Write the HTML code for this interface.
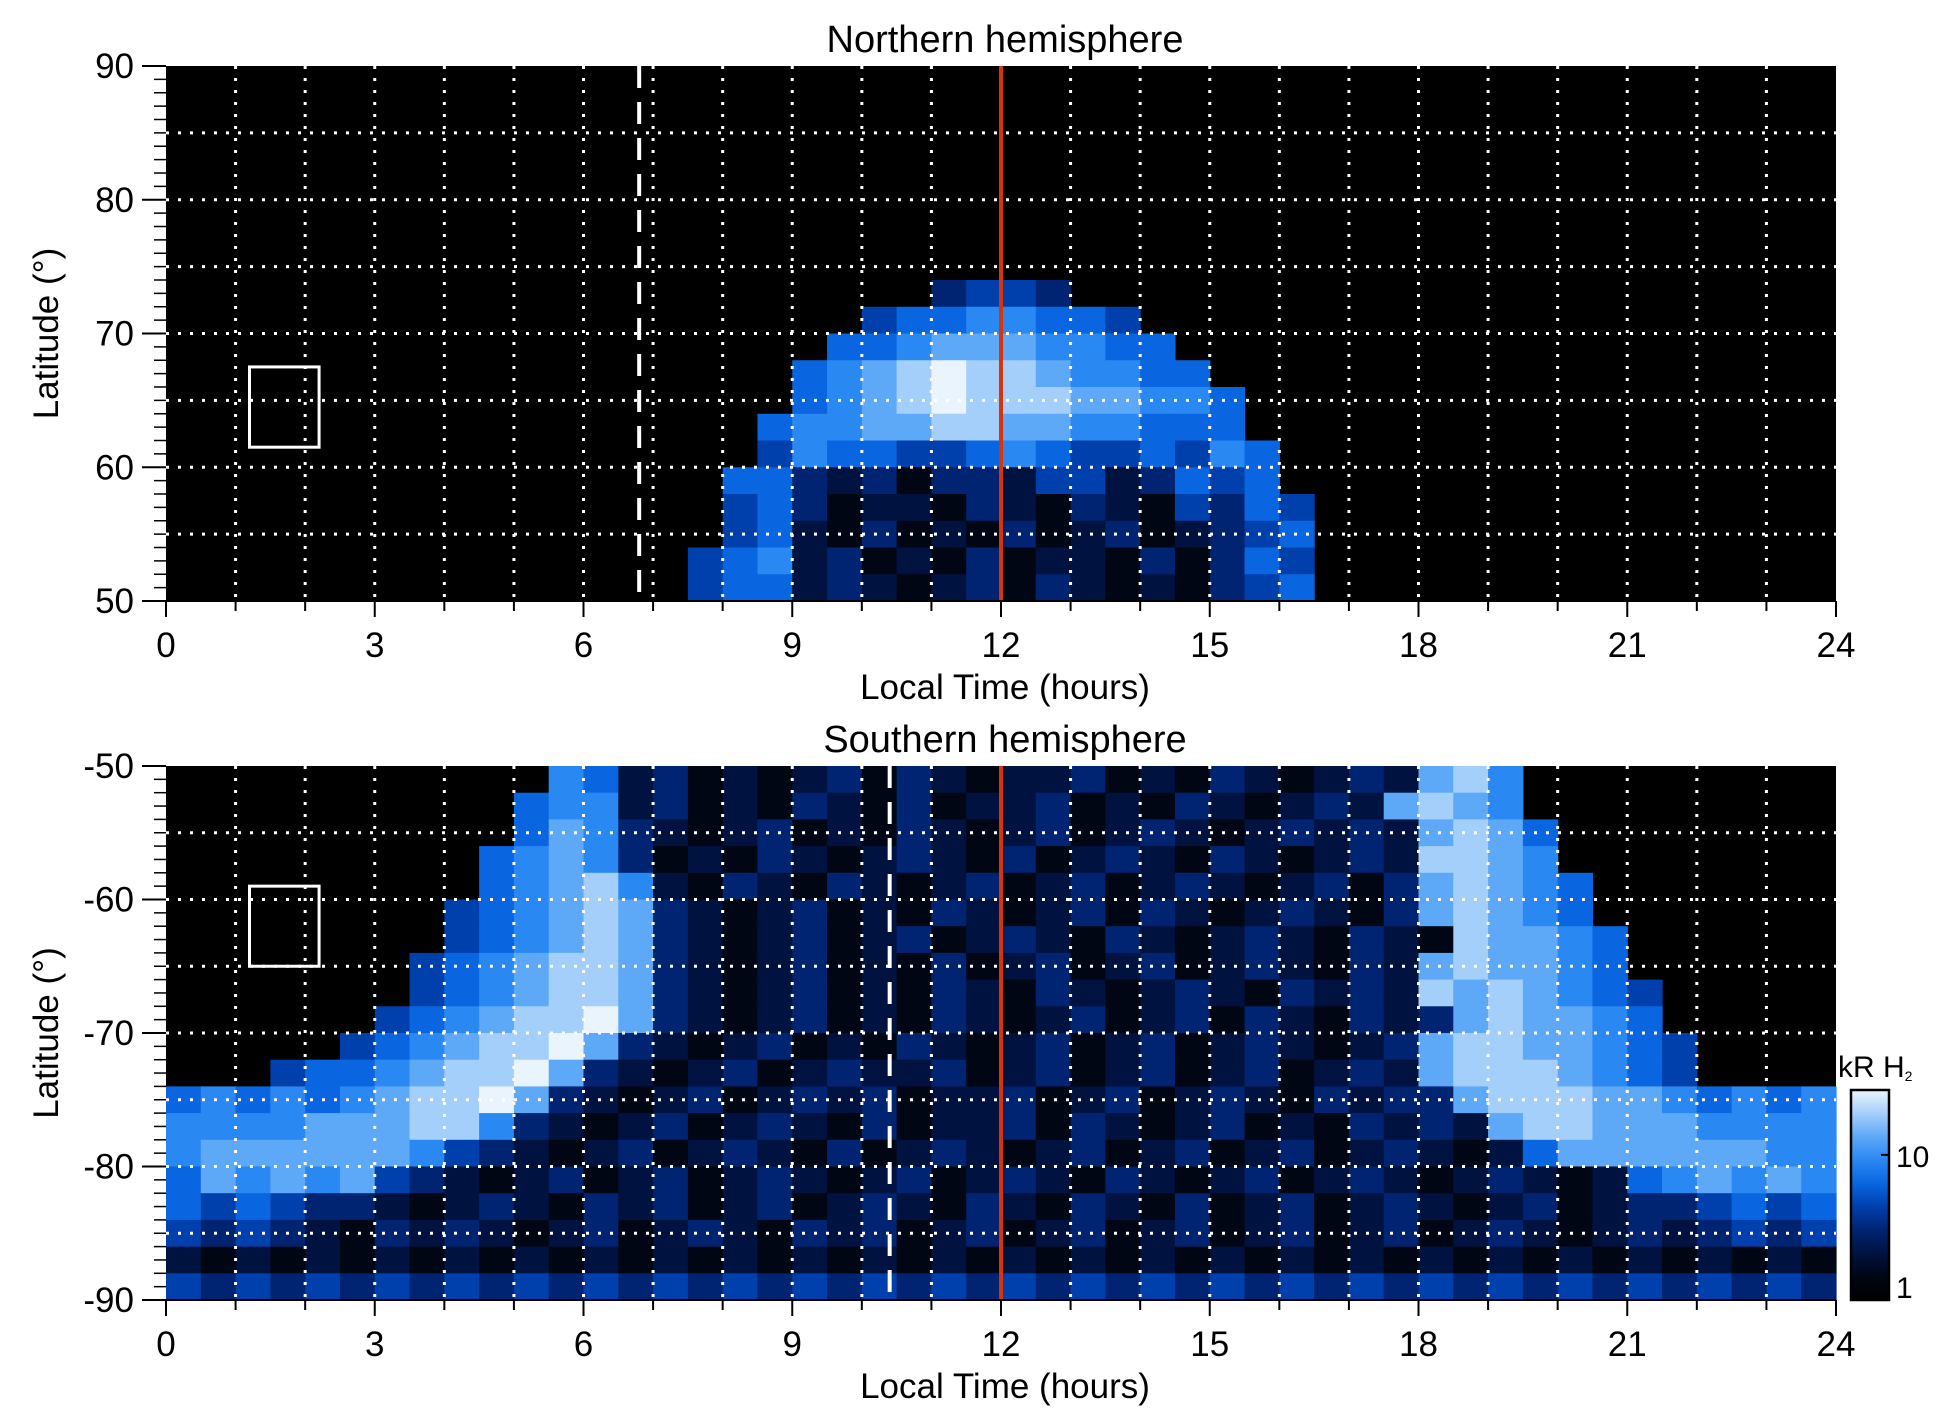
<!DOCTYPE html>
<html><head><meta charset="utf-8"><style>
body{margin:0;background:#fff;width:1950px;height:1423px;overflow:hidden}
svg{display:block}
text{font-family:"Liberation Sans",sans-serif;fill:#000}
</style></head><body>
<svg id="fig" width="1950" height="1423"></svg>
<script>
// Data: LT bins of 0.5 h (48 columns), latitude bins of 2 deg (20 rows)
const ltBins = 48;
const northRows = [
[0,""],[0,""],[0,""],[0,""],[0,""],[0,""],[0,""],[0,""],
[22,"3443"],
[20,"45566554"],
[19,"5567776655"],
[18,"567898876655"],
[18,"5678988877665"],
[17,"56677887766555"],
[17,"465544565445465"],
[16,"5532313324423545"],
[16,"45312213213214354"],
[16,"45213121312312345"],
[15,"456231213122131354"],
[15,"455232123132121345"]
];
const southRows = [
[11,"6523121231321223121321232786"],
[10,"56623121321312231213212327876"],
[10,"576321231213212312321232327875"],
[9,"5676312132123213123213212328876"],
[9,"56786213213212312312321231378765"],
[8,"456787321231213212313212321378765"],
[8,"4567873212312312321321232132187765"],
[7,"45678873212312131231231232132787765"],
[7,"456788732123121321321232132328787654"],
[6,"4567889732123121321231231321323787765"],
[5,"456788973212312132123123123212378877654"],
[3,"45567889732123123223123123123123278887654"],
[0,"565656788973212312323122312312321323378887765656"],
[0,"666677788632123123213122313212312132327887776666"],
[0,"677777764321231232131232123123123123212577777766"],
[0,"576767432123123123212312321321231232123212567676"],
[0,"545433212321323123123213213213123123212312334545"],
[0,"434321323212312321323123123123123123123212323434"],
[0,"212121212121212121212121212121212121212121212121"],
[0,"434343434343434343434343434343434343434343434343"]
];
const xTicks = [0,3,6,9,12,15,18,21,24];
const northYTicks = [50,60,70,80,90];
const southYTicks = [-90,-80,-70,-60,-50];
const cbTicks = [1,10];

const NS="http://www.w3.org/2000/svg";
const svg=document.getElementById('fig');
function el(t,a,p){const e=document.createElementNS(NS,t);for(const k in a)e.setAttribute(k,a[k]);(p||svg).appendChild(e);return e;}
const X0=166,X1=1836;
const xs=lt=>X0+(X1-X0)*lt/24;
const palette=['#000000','#000614','#00123f','#002472','#0040ac','#0a66e0','#2a88f2','#5ea8f8','#a4cffa','#eaf4fd'];

function panel(name,title,top,bot,latMin,latMax,rows,yTicks,dashLT,boxLat){
  const ys=lat=>bot-(bot-top)*(lat-latMin)/(latMax-latMin);
  const g=el('g',{});  
  const bg=el('rect',{x:X0,y:top,width:X1-X0,height:bot-top,fill:'#000'},g);
   
  const cells=el('g',{},g);  
  const step=(latMax-latMin)/rows.length;
  rows.forEach((r,ri)=>{
    const start=r[0],vals=r[1];
    const latHi = latMax-ri*step;
    for(let j=0;j<vals.length;j++){
      const i=start+j; if(i>=ltBins) break;
      const v=+vals[j]; if(!v) continue;
      const c=el('rect',{x:xs(i*0.5),y:ys(latHi),width:xs(0.5)-xs(0)+0.6,height:ys(latHi-step)-ys(latHi)+0.6,fill:palette[v]},cells);
      
      
    }
  });
  for(let h=1;h<24;h++){const l=el('line',{x1:xs(h),x2:xs(h),y1:top,y2:bot,stroke:'#fff','stroke-width':3,'stroke-dasharray':'3 9'},g);
     }
  for(let la=latMin+5;la<latMax;la+=5){const l=el('line',{x1:X0,x2:X1,y1:ys(la),y2:ys(la),stroke:'#fff','stroke-width':3,'stroke-dasharray':'3 9'},g);
     }
  const d=el('line',{x1:xs(dashLT),x2:xs(dashLT),y1:top,y2:bot,stroke:'#fff','stroke-width':4,'stroke-dasharray':'22 14'},g);
   
  const rl=el('line',{x1:xs(12),x2:xs(12),y1:top,y2:bot,stroke:'#d8340c','stroke-width':4},g);
   
  const bx=el('rect',{x:xs(1.2),y:ys(boxLat[1]),width:xs(2.2)-xs(1.2),height:ys(boxLat[0])-ys(boxLat[1]),fill:'none',stroke:'#fff','stroke-width':3},g);
   
  const ax=el('g',{stroke:'#000','stroke-width':2},g);  
  el('line',{x1:X0,x2:X1,y1:bot,y2:bot},ax);
  for(let h=0;h<=24;h++) el('line',{x1:xs(h),x2:xs(h),y1:bot,y2:bot+(h%3?10:16)},ax);
  for(let la=latMin;la<=latMax;la++){const L=la%10===0?24:12; el('line',{x1:X0-L,x2:X0,y1:ys(la),y2:ys(la),'stroke-width':la%10===0?2:1.5},ax);}
  xTicks.forEach(t=>{const tx=el('text',{x:xs(t),y:bot+56,'font-size':35,'text-anchor':'middle'},g);tx.textContent=t;
     });
  yTicks.forEach(t=>{const tx=el('text',{x:X0-32,y:ys(t)+12,'font-size':35,'text-anchor':'end'},g);tx.textContent=t;
     });
  const tt=el('text',{x:1005,y:top-14,'font-size':38,'text-anchor':'middle'},g);tt.textContent=title;
   
  const xl=el('text',{x:1005,y:bot+98,'font-size':35,'text-anchor':'middle'},g);xl.textContent='Local Time (hours)';
   
  const cy=(top+bot)/2;
  const yl=el('text',{x:58,y:cy,'font-size':35,'text-anchor':'middle',transform:`rotate(-90 58 ${cy})`},g);yl.textContent='Latitude (°)';
   
}
panel('north','Northern hemisphere',66,601,50,90,northRows,northYTicks,6.8,[61.5,67.5]);
panel('south','Southern hemisphere',766,1300,-90,-50,southRows,southYTicks,10.4,[-65,-59]);

const defs=el('defs',{});
const gr=el('linearGradient',{id:'cbg',x1:0,y1:1,x2:0,y2:0},defs);
palette.forEach((c,i)=>el('stop',{offset:i/(palette.length-1),'stop-color':c},gr));
const CB0=1851,CB1=1889,CBT=1090,CBB=1300;
const cys=v=>CBB-(CBB-CBT)*Math.log10(v)/Math.log10(28);
const cb=el('g',{});  
el('rect',{x:CB0,y:CBT,width:CB1-CB0,height:CBB-CBT,fill:'url(#cbg)',stroke:'#000','stroke-width':2.5},cb);
cbTicks.forEach(t=>{el('line',{x1:CB1-8,x2:CB1,y1:cys(t),y2:cys(t),stroke:'#000','stroke-width':2},cb);
  const tx=el('text',{x:1896,y:cys(t)+(t===1?-2:12),'font-size':30},cb);tx.textContent=t;
   });
const cl=el('text',{x:1838,y:1077,'font-size':30},cb);
cl.innerHTML='kR H<tspan font-size="14" dy="4">2</tspan>';
 
</script>
</body></html>
